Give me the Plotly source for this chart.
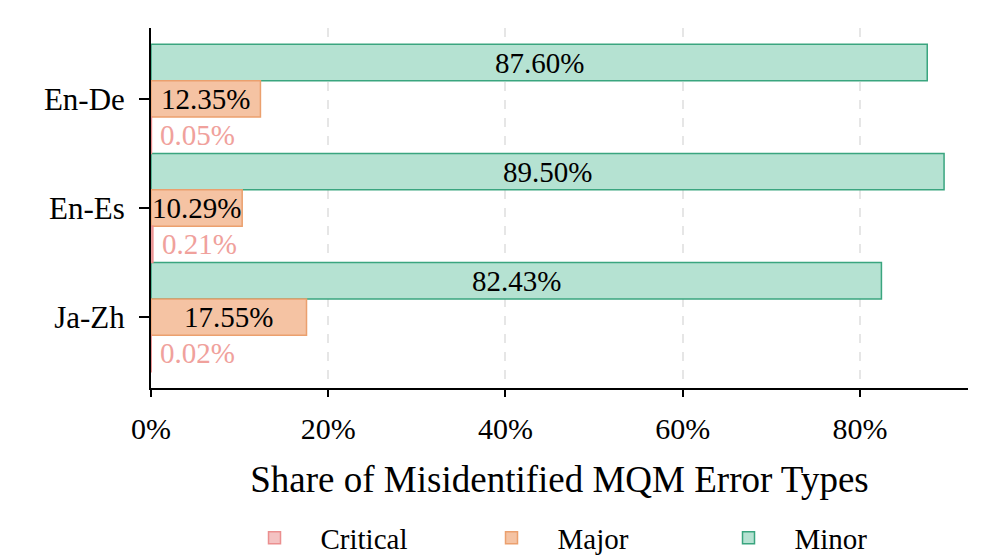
import plotly.graph_objects as go

categories = ["En-De", "En-Es", "Ja-Zh"]
series_names = ["Minor", "Major", "Critical"]
minor = [87.60, 89.50, 82.43]
major = [12.35, 10.29, 17.55]
critical = [0.05, 0.21, 0.02]
x_ticks = [0, 20, 40, 60, 80]
x_tick_labels = ["0%", "20%", "40%", "60%", "80%"]

values = {"Minor": minor, "Major": major, "Critical": critical}
fills = {"Minor": "#b5e2d2", "Major": "#f5c3a3", "Critical": "#f4c2c2"}
edges = {"Minor": "#3aa57f", "Major": "#eba06e", "Critical": "#eb8f8f"}
offsets = {"Minor": -1/3, "Major": 0.0, "Critical": 1/3}
text_colors = {"Minor": "black", "Major": "black", "Critical": "#f0a19c"}

FONT = "Liberation Serif"
FS = 29
fig = go.Figure()
annotations = []
for name in series_names:
    ys = [i + offsets[name] for i in range(len(categories))]
    fig.add_trace(go.Bar(
        x=values[name], y=ys, orientation="h", width=1/3, name=name,
        marker=dict(color=fills[name], line=dict(color=edges[name], width=1.5)),
        legendrank={"Critical": 1, "Major": 2, "Minor": 3}[name],
    ))
    for v, y in zip(values[name], ys):
        if name == "Critical":
            annotations.append(dict(x=v, y=y, text=f"{v:.2f}%", showarrow=False,
                                    xanchor="left", xshift=7,
                                    font=dict(family=FONT, size=FS, color=text_colors[name])))
        else:
            annotations.append(dict(x=v / 2, y=y, text=f"{v:.2f}%", showarrow=False,
                                    font=dict(family=FONT, size=FS, color=text_colors[name])))

fig.update_layout(
    width=995, height=556,
    margin=dict(l=143, r=35, t=20, b=176),
    plot_bgcolor="white", paper_bgcolor="white",
    barmode="overlay",
    font=dict(family=FONT, size=31, color="black"),
    annotations=annotations,
    showlegend=True,
    legend=dict(orientation="h", x=0.53, xanchor="center", xref="paper",
                y=0.047, yanchor="middle", yref="container",
                font=dict(family=FONT, size=FS, color="black"), itemwidth=82, entrywidth=140),
    xaxis=dict(range=[0, 92.2], tickvals=x_ticks, ticktext=x_tick_labels,
               showgrid=True, gridcolor="#e6e6e6", griddash="dash", gridwidth=1.5,
               showline=True, linecolor="black", linewidth=2,
               ticks="outside", ticklen=7, tickwidth=2, tickcolor="black",
               ticklabelstandoff=6,
               title=dict(text="Share of Misidentified MQM Error Types", standoff=22),
               zeroline=False, tickfont=dict(family=FONT, size=FS + 1, color="black"),
               automargin=False),
    yaxis=dict(range=[2.65, -0.65], tickvals=list(range(len(categories))), ticktext=categories,
               showgrid=False, showline=True, linecolor="black", linewidth=2,
               ticks="outside", ticklen=10, tickwidth=2, tickcolor="black",
               ticklabelstandoff=8,
               zeroline=False, tickfont=dict(family=FONT, size=FS + 2, color="black"),
               automargin=False),
)
fig.write_html("out.html")
